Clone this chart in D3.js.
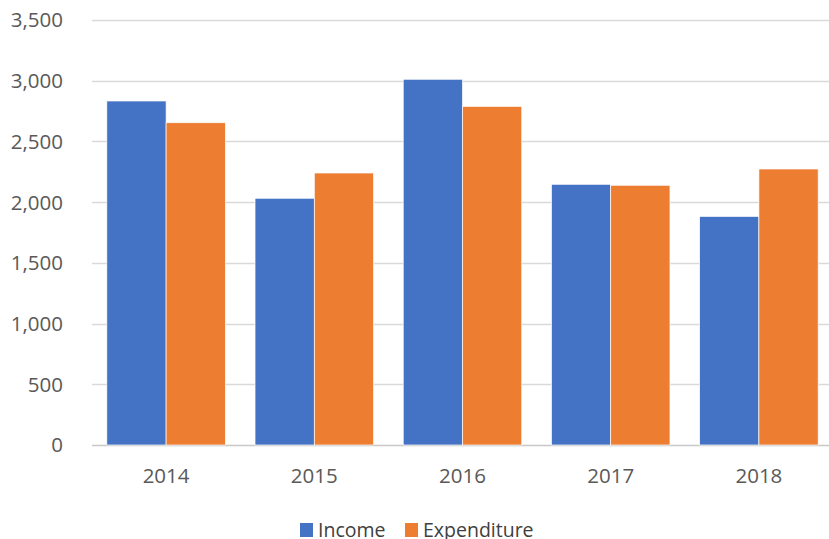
<!DOCTYPE html>
<meta charset="utf-8">
<title>Income and Expenditure</title>
<style>
body { margin: 0; background: #fff; }
text { font-family: "Open Sans", "Noto Sans", sans-serif; }
</style>
<svg width="829" height="539"></svg>
<script src="https://d3js.org/d3.v7.min.js"></script>
<script>

var years = ["2014", "2015", "2016", "2017", "2018"];
var seriesNames = ["Income", "Expenditure"];
var income = [2833, 2032, 3012, 2147, 1883];
var expenditure = [2654, 2240, 2789, 2139, 2273];
var yTicks = [0, 500, 1000, 1500, 2000, 2500, 3000, 3500];
var colors = ["#4472C4", "#ED7D31"];

var svg = d3.select("svg");
var plotLeft = 92, plotRight = 833, plotTop = 20, plotBottom = 445;

var rows = years.map(function(y, i) {
  return { year: y, values: [income[i], expenditure[i]] };
});

var x = d3.scaleBand().domain(years).range([plotLeft, plotRight])
    .paddingInner(0.2).paddingOuter(0.1);
var x1 = d3.scaleBand().domain(d3.range(2)).range([0, x.bandwidth()]);
var y = d3.scaleLinear().domain([0, 3500]).range([plotBottom, plotTop]);

// gridlines
svg.append("g")
  .selectAll("line")
  .data(yTicks)
  .enter().append("line")
    .attr("x1", plotLeft).attr("x2", plotRight)
    .attr("y1", function(d) { return Math.round(y(d)) + 0.5; })
    .attr("y2", function(d) { return Math.round(y(d)) + 0.5; })
    .attr("stroke", function(d) { return d === 0 ? "#c8c8c8" : "#d9d9d9"; })
    .attr("stroke-width", 1.3);

// y labels
svg.append("g")
  .selectAll("text")
  .data(yTicks)
  .enter().append("text")
    .attr("x", 63)
    .attr("y", function(d) { return y(d); })
    .attr("dy", "0.36em")
    .attr("text-anchor", "end")
    .attr("fill", "#595959")
    .style("font-size", "20.5px")
    .text(d3.format(","));

// bars
var groups = svg.append("g")
  .selectAll("g")
  .data(rows)
  .enter().append("g")
    .attr("transform", function(d) { return "translate(" + x(d.year) + ",0)"; });

groups.selectAll("rect")
  .data(function(d) { return d.values; })
  .enter().append("rect")
    .attr("x", function(d, i) { return x1(i); })
    .attr("y", function(d) { return y(d); })
    .attr("width", x1.bandwidth())
    .attr("height", function(d) { return y(0) - y(d); })
    .attr("fill", function(d, i) { return colors[i]; })
    .attr("stroke", "#fff")
    .attr("stroke-width", 0.7);

// x labels
svg.append("g")
  .selectAll("text")
  .data(years)
  .enter().append("text")
    .attr("x", function(d) { return x(d) + x.bandwidth() / 2; })
    .attr("y", 483)
    .attr("text-anchor", "middle")
    .attr("fill", "#595959")
    .style("font-size", "20.5px")
    .text(function(d) { return d; });

// legend
var legendX = [300, 405];
var legend = svg.append("g")
  .selectAll("g")
  .data(seriesNames)
  .enter().append("g")
    .attr("transform", function(d, i) { return "translate(" + legendX[i] + ",523)"; });

legend.append("rect")
  .attr("width", 13).attr("height", 14)
  .attr("fill", function(d, i) { return colors[i]; });

legend.append("text")
  .attr("x", 18).attr("y", 14)
  .attr("fill", "#404040")
  .style("font-size", "19.5px")
  .text(function(d) { return d; });

</script>
